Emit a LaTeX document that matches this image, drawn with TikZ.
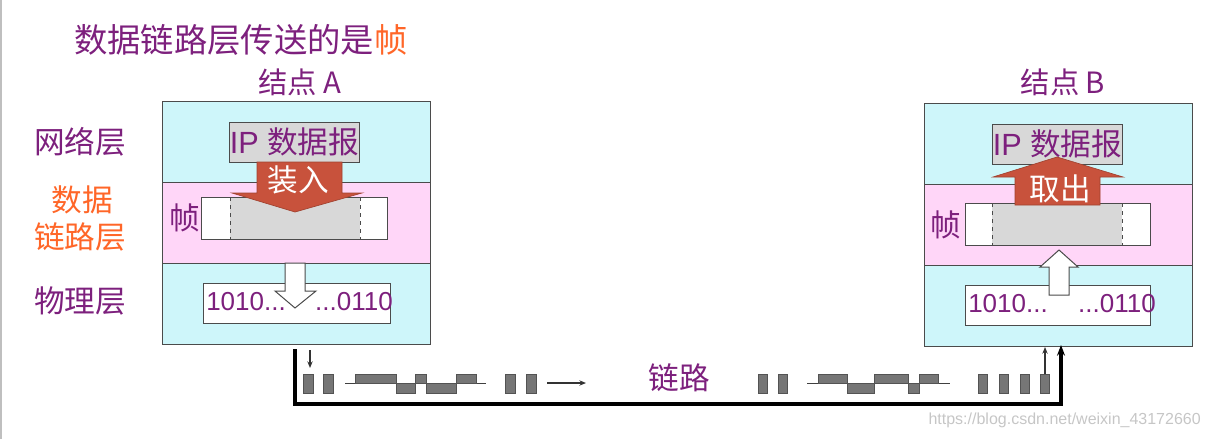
\documentclass[tikz,border=0pt]{standalone}
\usepackage{fontspec}
\setmainfont{Liberation Sans}
\newfontfamily\cjk{Noto Sans CJK SC}
\usetikzlibrary{arrows.meta}
\definecolor{cyanbg}{RGB}{206,246,250}
\definecolor{pinkbg}{RGB}{255,214,248}
\definecolor{txtpurple}{RGB}{125,32,125}
\definecolor{txtorange}{RGB}{255,102,40}
\definecolor{redarrow}{RGB}{200,82,60}
\definecolor{edge}{RGB}{75,75,75}
\definecolor{graybox}{RGB}{216,216,216}
\definecolor{blockc}{RGB}{118,118,118}
\begin{document}
\begin{tikzpicture}[x=0.75pt,y=-0.75pt,
  layer/.style={draw=edge, line width=0.75pt, inner sep=0, minimum width=201pt, minimum height=60.75pt, anchor=north west},
  lbl/.style={font=\cjk\fontsize{23}{26}\selectfont, text=txtpurple, inner sep=0},
  olbl/.style={font=\cjk\fontsize{23}{26}\selectfont, text=txtorange, inner sep=0},
  ipbox/.style={draw=edge, fill=graybox, line width=0.75pt, minimum width=96.75pt, minimum height=30pt, inner sep=0, font=\fontsize{23}{26}\selectfont, text=txtpurple},
  wbox/.style={draw=edge, fill=white, line width=0.75pt, inner sep=0, anchor=north west},
  bits/.style={font=\fontsize{19.5}{22}\selectfont, text=txtpurple, inner sep=0},
  redar/.style={fill=redarrow, draw=redarrow!80!black, line width=0.5pt},
  whar/.style={fill=white, draw=edge, line width=0.75pt},
  blk/.style={fill=blockc, draw=blockc!70!black, line width=0.5pt},
  wire/.style={line width=0.6pt, draw=black!75},
  link/.style={line width=2.4pt, draw=black},
  thin/.style={line width=0.9pt, draw=black!80, -{Stealth[length=5pt,width=4pt]}}
]
\useasboundingbox (0,0) rectangle (1209,439);
\draw[gray!50, line width=1.5pt] (1,0) -- (1,439);

% title
\node[lbl, anchor=west, font=\cjk\fontsize{25}{28}\selectfont] (title) at (74,40) {数据链路层传送的是\textcolor{txtorange}{帧}};

% layer labels
\node[lbl] (lnet) at (80,142) {网络层};
\node[olbl] (ldl1) at (82,200) {数据};
\node[olbl] (ldl2) at (80,237) {链路层};
\node[lbl] (lphy) at (80,301) {物理层};

% ---------- Node A ----------
\node[lbl, font=\cjk\fontsize{22}{26}\selectfont] (nameA) at (300,82) {结点 A};
\node[layer, fill=cyanbg] (Anet) at (162,101) {};
\node[layer, fill=pinkbg] (Adl) at (162,182) {};
\node[layer, fill=cyanbg] (Aphy) at (162,263) {};
\node[ipbox] (Aip) at (294.5,142) {IP {\cjk 数据报}};
% frame A
\node[wbox, minimum width=139.5pt, minimum height=31.5pt] (Afr) at (201,197) {};
\fill[graybox] (230,197.5) rectangle (360,238.5);
\draw[edge, dashed, line width=0.75pt] (230,197) -- (230,239);
\draw[edge, dashed, line width=0.75pt] (360,197) -- (360,239);
\node[lbl] (Afl) at (185,218) {帧};
% red arrow A (load)
\draw[redar] (257,162) -- (342,162) -- (342,193) -- (362,193) -- (295,212) -- (232,193) -- (257,193) -- cycle;
\node[font=\cjk\fontsize{23}{26}\selectfont, text=white, inner sep=0] (Aload) at (298,180) {装入};
% bits A
\node[wbox, minimum width=140.25pt, minimum height=30pt] (Abits) at (203,283) {};
\draw[whar] (285,263) -- (305,263) -- (305,291) -- (316,291) -- (295,308) -- (275,291) -- (285,291) -- cycle;
\node[bits, anchor=west] (Ab1) at (206,302) {1010...};
\node[bits, anchor=east] (Ab2) at (393,302) {...0110};

% ---------- Node B ----------
\node[lbl, font=\cjk\fontsize{22}{26}\selectfont] (nameB) at (1063,82) {结点 B};
\node[layer, fill=cyanbg] (Bnet) at (924,103) {};
\node[layer, fill=pinkbg] (Bdl) at (924,184) {};
\node[layer, fill=cyanbg] (Bphy) at (924,265) {};
\node[ipbox] (Bip) at (1057.5,144) {IP {\cjk 数据报}};
% frame B
\node[wbox, minimum width=138.75pt, minimum height=31.5pt] (Bfr) at (965,203) {};
\fill[graybox] (992,203.5) rectangle (1122,244.5);
\draw[edge, dashed, line width=0.75pt] (992,203) -- (992,245);
\draw[edge, dashed, line width=0.75pt] (1122,203) -- (1122,245);
\node[lbl] (Bfl) at (946,225) {帧};
% red arrow B (unload)
\draw[redar] (1015,205) -- (1100,205) -- (1100,177) -- (1123,177) -- (1057,157) -- (993,177) -- (1015,177) -- cycle;
\node[font=\cjk\fontsize{23}{26}\selectfont, text=white, inner sep=0] (Bout) at (1060,189) {取出};
% bits B
\node[wbox, minimum width=138.75pt, minimum height=30pt] (Bbits) at (965,285) {};
\draw[whar] (1049,295) -- (1069,295) -- (1069,267) -- (1078,267) -- (1059,250) -- (1040,267) -- (1049,267) -- cycle;
\node[bits, anchor=west] (Bb1) at (968,304) {1010...};
\node[bits, anchor=east] (Bb2) at (1156,304) {...0110};

% ---------- link ----------
\coordinate (lkA) at (295,349);
\coordinate (lkA2) at (295,404);
\coordinate (lkB2) at (1061,404);
\coordinate (lkB) at (1061,345);
\draw[link, -{Stealth[length=8pt,width=6pt]}, line join=miter] (lkA) -- (lkA2) -- (lkB2) -- (lkB);
\coordinate (dnA) at (310,350);
\coordinate (dnA2) at (310,368);
\draw[thin] (dnA) -- (dnA2);
\node[lbl] (linkl) at (679,378) {链路};

% left blocks and waveform
\node[blk, minimum width=7.5pt, minimum height=14.25pt, inner sep=0] (b1) at (308,383.5) {};
\node[blk, minimum width=7.5pt, minimum height=14.25pt, inner sep=0] (b2) at (328,383.5) {};
\draw[wire] (345,383) -- (486,383);
\draw[blk] (355,374) rectangle (396,383);
\draw[blk] (396,383) rectangle (415,393);
\draw[blk] (415,374) rectangle (426,383);
\draw[blk] (426,383) rectangle (456,393);
\draw[blk] (456,374) rectangle (476,383);
\node[blk, minimum width=7.5pt, minimum height=14.25pt, inner sep=0] (b3) at (510,383.5) {};
\node[blk, minimum width=7.5pt, minimum height=14.25pt, inner sep=0] (b4) at (531.5,383.5) {};
\coordinate (arA) at (547,383);
\coordinate (arB) at (586,383);
\draw[thin] (arA) -- (arB);

% right blocks and waveform
\node[blk, minimum width=7pt, minimum height=14.25pt, inner sep=0] (b5) at (762.5,383.5) {};
\node[blk, minimum width=7pt, minimum height=14.25pt, inner sep=0] (b6) at (782.5,383.5) {};
\draw[wire] (807,383) -- (950,383);
\draw[blk] (818,374) rectangle (847,383);
\draw[blk] (847,383) rectangle (874,393);
\draw[blk] (874,374) rectangle (908,383);
\draw[blk] (908,383) rectangle (919,393);
\draw[blk] (919,374) rectangle (938,383);
\node[blk, minimum width=7pt, minimum height=14.25pt, inner sep=0] (b7) at (982.5,383.5) {};
\node[blk, minimum width=7pt, minimum height=14.25pt, inner sep=0] (b8) at (1003.5,383.5) {};
\node[blk, minimum width=7pt, minimum height=14.25pt, inner sep=0] (b9) at (1024.5,383.5) {};
\node[blk, minimum width=7pt, minimum height=14.25pt, inner sep=0] (b10) at (1045,383.5) {};
\draw[thin] (b10.north) -- (Bphy.south -| b10.north);

% watermark
\node[anchor=east, text=gray!45, font=\fontsize{12}{14}\selectfont, inner sep=0] (wm) at (1201,420) {https://blog.csdn.net/weixin\_43172660};
\end{tikzpicture}
\end{document}
